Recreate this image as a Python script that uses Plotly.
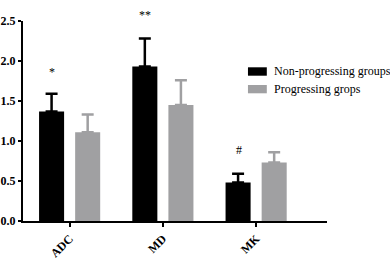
import plotly.graph_objects as go

categories = ["ADC", "MD", "MK"]
series_names = ["Non-progressing groups", "Progressing grops"]
non_prog = [1.37, 1.93, 0.48]
non_prog_err = [0.22, 0.35, 0.11]
prog = [1.11, 1.45, 0.73]
prog_err = [0.22, 0.31, 0.13]
marks = ["*", "**", "#"]
mark_y = [1.98, 2.69, 0.89]
y_ticks = [0.0, 0.5, 1.0, 1.5, 2.0, 2.5]
Y_MAX = 2.5

BLACK = "#000000"
GRAY = "#a0a0a2"
colors = [BLACK, GRAY]

fig = go.Figure()
for name, vals, errs, col in zip(series_names, [non_prog, prog], [non_prog_err, prog_err], colors):
    fig.add_trace(go.Bar(
        x=categories, y=vals, name=name,
        marker=dict(color=col, line=dict(width=0)),
        error_y=dict(type="data", symmetric=False, array=errs,
                     arrayminus=[0] * len(errs), color=col, thickness=2.5, width=6),
    ))

for c, m, yv in zip(categories, marks, mark_y):
    fig.add_annotation(x=c, y=yv / Y_MAX, yref="paper", text=m, showarrow=False,
                       xshift=-17.5,
                       font=dict(family="Liberation Serif", size=12, color="#000000"))

# custom legend (wide flat swatches as in the reference)
leg_rows = [(0.7685, 0.7265, 0.7475), (0.68, 0.6385, 0.66)]
for (y0, y1, yt), name, col in zip(leg_rows, series_names, colors):
    fig.add_shape(type="rect", xref="paper", yref="paper", x0=0.740, x1=0.802,
                  y0=y1, y1=y0, fillcolor=col, line=dict(width=0))
    fig.add_annotation(xref="paper", yref="paper", x=0.819, y=yt, text=name,
                       xanchor="left", yanchor="middle", showarrow=False,
                       font=dict(family="Liberation Serif", size=12, color="#000000"))

fig.update_layout(
    width=390, height=261,
    margin=dict(l=23, r=63, t=21, b=40),
    paper_bgcolor="white", plot_bgcolor="white",
    barmode="group", bargap=0.226, bargroupgap=0.306,
    showlegend=False,
    xaxis=dict(range=[-0.5, 2.76], showline=True, linecolor="#000", linewidth=2,
               ticks="outside", ticklen=4, tickwidth=2, tickcolor="#000",
               tickangle=-45, showgrid=False, zeroline=False, automargin=False,
               tickfont=dict(family="Liberation Serif", size=12, color="#000", weight="bold")),
    yaxis=dict(range=[0, Y_MAX], showline=True, linecolor="#000", linewidth=2,
               tickvals=y_ticks, ticktext=[f"{v:.1f}" for v in y_ticks],
               ticks="outside", ticklen=3, tickwidth=2, tickcolor="#000",
               showgrid=False, zeroline=False, automargin=False,
               tickfont=dict(family="Liberation Serif", size=12, color="#000", weight="bold")),
)

fig.write_html("out.html", config={"displayModeBar": False},
               post_script="document.body.style.margin='0';")
